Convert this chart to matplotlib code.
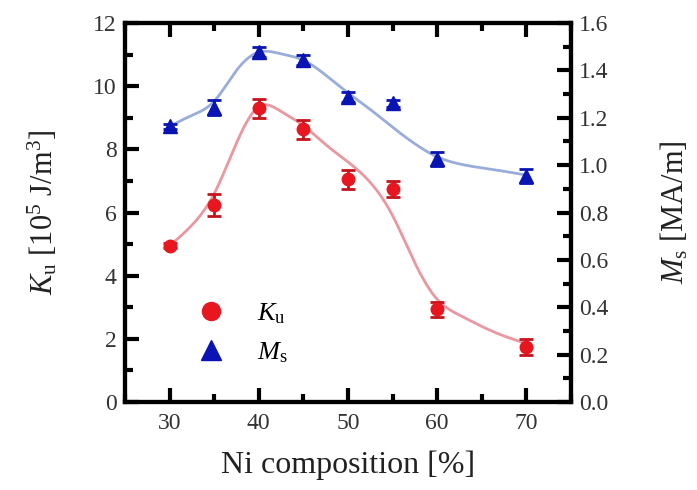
import numpy as np
import matplotlib
matplotlib.use("Agg")
import matplotlib.pyplot as plt
from matplotlib.ticker import MultipleLocator, FormatStrFormatter

plt.rcParams["font.family"] = ["Liberation Serif", "DejaVu Serif"]
plt.rcParams["mathtext.fontset"] = "custom"
plt.rcParams["mathtext.rm"] = "Liberation Serif"
plt.rcParams["mathtext.it"] = "Liberation Serif:italic"

# =============================
# Data
# =============================
ni = [30, 35, 40, 45, 50, 55, 60, 70]
ku = [4.95, 6.23, 9.3, 8.64, 7.05, 6.75, 2.93, 1.75]
ku_err = [0.08, 0.35, 0.3, 0.3, 0.3, 0.25, 0.25, 0.25]
ms = [1.164, 1.243, 1.477, 1.443, 1.287, 1.262, 1.027, 0.955]
ms_err = [0.01, 0.03, 0.02, 0.02, 0.02, 0.015, 0.03, 0.03]

# guide curves (fit nodes)
fit_x = [30, 32.5, 35, 37.5, 40, 42.5, 45, 47.5, 50, 52.5, 55, 57.5, 60, 62.5, 66.5, 70]
ku_fit = [4.95, 5.6, 6.6, 8.2, 9.35, 9.2, 8.75, 8.15, 7.6, 6.95, 5.9, 4.4, 3.25, 2.75, 2.2, 1.85]
ms_fit = [1.164, 1.21, 1.27, 1.40, 1.477, 1.47, 1.443, 1.38, 1.305, 1.235, 1.16, 1.09, 1.035, 1.005, 0.98, 0.958]


def spline(x, y, xs):
    # natural cubic spline for the smooth guide lines
    x = np.asarray(x, float)
    y = np.asarray(y, float)
    n = len(x)
    h = np.diff(x)
    A = np.zeros((n, n))
    b = np.zeros(n)
    A[0, 0] = A[-1, -1] = 1
    for i in range(1, n - 1):
        A[i, i - 1] = h[i - 1]
        A[i, i] = 2 * (h[i - 1] + h[i])
        A[i, i + 1] = h[i]
        b[i] = 6 * ((y[i + 1] - y[i]) / h[i] - (y[i] - y[i - 1]) / h[i - 1])
    M = np.linalg.solve(A, b)
    idx = np.clip(np.searchsorted(x, xs) - 1, 0, n - 2)
    hi = h[idx]
    a = x[idx + 1] - xs
    c = xs - x[idx]
    return (M[idx] * a**3 / (6 * hi) + M[idx + 1] * c**3 / (6 * hi)
            + (y[idx] / hi - M[idx] * hi / 6) * a
            + (y[idx + 1] / hi - M[idx + 1] * hi / 6) * c)


xs = np.linspace(30, 70, 400)

# =============================
# Figure
# =============================
fig = plt.figure(figsize=(6.97, 4.90), dpi=100)
ax = fig.add_axes([0.1793, 0.1796, 0.64, 0.7734])
ax2 = ax.twinx()

ax.plot(xs, spline(fit_x, ku_fit, xs), color="#e88c96", lw=2.0, alpha=0.9, zorder=1)
ax2.plot(xs, spline(fit_x, ms_fit, xs), color="#8ea4d6", lw=2.0, alpha=0.9, zorder=1)

ax.errorbar(ni, ku, yerr=ku_err, fmt="o", color="#e8161e", ecolor="#c4141c",
            ms=9, capsize=5, capthick=2, elinewidth=2, zorder=3)
ax2.errorbar(ni, ms, yerr=ms_err, fmt="^", color="#0a14b4", ecolor="#0a14b4",
             ms=10, capsize=5, capthick=2, elinewidth=2, zorder=3)

ax.set_xlim(25, 75)
ax.set_ylim(0, 12)
ax2.set_ylim(0, 1.6)

ax.xaxis.set_major_locator(MultipleLocator(10))
ax.xaxis.set_minor_locator(MultipleLocator(5))
ax.yaxis.set_major_locator(MultipleLocator(2))
ax.yaxis.set_minor_locator(MultipleLocator(1))
ax2.yaxis.set_major_locator(MultipleLocator(0.2))
ax2.yaxis.set_minor_locator(MultipleLocator(0.1))
ax2.yaxis.set_major_formatter(FormatStrFormatter("%.1f"))

for a in (ax, ax2):
    for s in a.spines.values():
        s.set_linewidth(3)
ax.tick_params(which="both", direction="in", top=True, right=False,
               labelsize=17, width=3, pad=6, labelcolor="#333333")
ax.tick_params(axis="x", pad=8)
ax.tick_params(which="major", length=10)
ax.tick_params(which="minor", length=6)
ax2.tick_params(which="both", direction="in", labelsize=17, width=3, pad=6,
                labelcolor="#333333")
ax2.tick_params(which="major", length=10)
ax2.tick_params(which="minor", length=6)

ax.set_xlabel("Ni composition [%]", fontsize=23, labelpad=12, color="#222222")
ax.set_ylabel(r"$K_\mathrm{u}$ [10$^5$ J/m$^3$]", fontsize=22, labelpad=24, color="#222222")
ax2.set_ylabel(r"$M_\mathrm{s}$ [MA/m]", fontsize=22, labelpad=36, color="#222222")

# legend
h1 = ax.plot([], [], "o", color="#e8161e", ms=13)[0]
h2 = ax.plot([], [], "^", color="#0a14b4", ms=14)[0]
ax.legend([h1, h2], [r"$K_\mathrm{u}$", r"$M_\mathrm{s}$"], loc="lower left",
          bbox_to_anchor=(0.08, 0.035), frameon=False, fontsize=19,
          handletextpad=0.75, labelspacing=0.55)

fig.savefig("out.png", dpi=100)
